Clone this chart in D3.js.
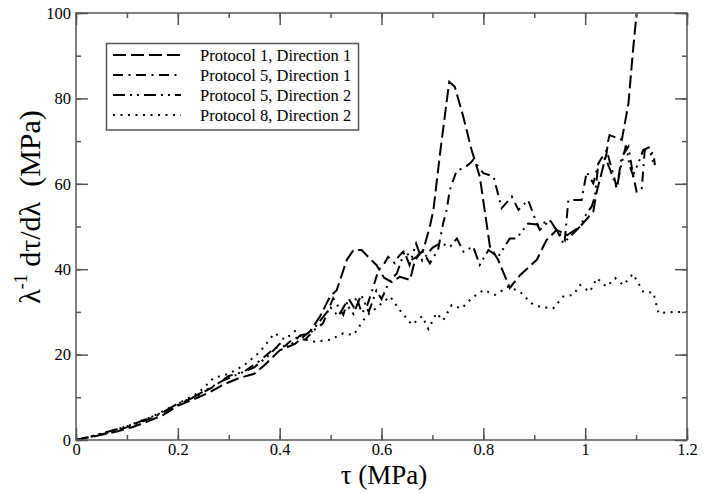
<!DOCTYPE html>
<html><head><meta charset="utf-8">
<script src="https://cdn.jsdelivr.net/npm/d3@7"></script>
<style>html,body{margin:0;padding:0;background:#fff;}</style>
</head><body>
<svg id="chart" width="704" height="494"></svg>
<script>
const xTicks = [0, 0.2, 0.4, 0.6, 0.8, 1, 1.2];
const yTicks = [0, 20, 40, 60, 80, 100];
const seriesNames = ["Protocol 1, Direction 1", "Protocol 5, Direction 1", "Protocol 5, Direction 2", "Protocol 8, Direction 2"];

const p1d1 = [[0,0],[0.02,0.5],[0.05,1.2],[0.08,2],[0.11,3],[0.14,4.3],[0.17,5.8],[0.2,8],[0.23,9.5],[0.26,11],[0.29,13],[0.32,14.5],[0.35,15.5],[0.37,17.5],[0.4,21],[0.43,22.5],[0.46,25.5],[0.479,28.9],[0.499,33.6],[0.512,35.1],[0.532,42.2],[0.545,44.5],[0.561,44.5],[0.577,42.5],[0.59,41],[0.605,38],[0.62,37],[0.636,38.2],[0.656,37.5],[0.666,42.2],[0.682,44.5],[0.695,50],[0.702,53.9],[0.715,67.1],[0.733,83.9],[0.744,82.7],[0.76,76],[0.777,67.9],[0.793,61.7],[0.813,45.3],[0.829,42.2],[0.852,35.6],[0.872,38.6],[0.905,42.2],[0.924,46.8],[0.944,49.2],[0.965,48],[0.99,50],[1.016,53.5],[1.022,57.8],[1.042,67.1],[1.045,69.9],[1.048,71.4],[1.072,70.3],[1.085,78.8],[1.094,91.3],[1.101,99.9],[1.11,112]];

const p5d1 = [[0,0],[0.03,0.8],[0.06,1.6],[0.09,2.6],[0.12,3.8],[0.15,5.2],[0.18,7],[0.21,8.8],[0.24,10.5],[0.27,12.5],[0.3,15],[0.33,16],[0.36,18.5],[0.39,21.5],[0.41,22],[0.43,24],[0.45,23.5],[0.47,26],[0.485,27.3],[0.505,33.2],[0.525,29.3],[0.535,33.2],[0.545,31.2],[0.551,33.6],[0.561,29.7],[0.571,31.2],[0.584,35.9],[0.594,39.8],[0.604,41],[0.613,42.9],[0.626,41.4],[0.633,42.9],[0.646,44.5],[0.659,42.2],[0.669,42.9],[0.679,44.5],[0.695,41.4],[0.711,44.5],[0.721,50.7],[0.728,53.9],[0.734,58.5],[0.748,63.2],[0.761,63.6],[0.774,64.8],[0.78,65.6],[0.8,62.5],[0.82,61.7],[0.836,54.3],[0.856,57],[0.869,53.9],[0.888,56.2],[0.905,50.7],[0.911,49.2],[0.931,51.5],[0.941,49.6],[0.96,46.8],[0.967,56.2],[0.993,56.2],[1.003,62.8],[1.016,60.1],[1.026,64.8],[1.042,67.9],[1.058,61],[1.062,58.9],[1.072,66.4],[1.085,68.7],[1.094,62.1],[1.101,58.2],[1.111,58.5],[1.117,67.9],[1.134,67.1],[1.137,64.4]];

const p5d2 = [[0,0],[0.025,0.7],[0.05,1.5],[0.08,2.5],[0.11,3.6],[0.14,5],[0.17,6.5],[0.2,8.5],[0.23,10],[0.26,12],[0.29,14],[0.32,15.5],[0.35,17],[0.38,20],[0.4,22.5],[0.42,22],[0.44,24.5],[0.46,25],[0.48,28],[0.5,31],[0.515,29],[0.53,32],[0.545,29.5],[0.56,34],[0.575,30],[0.59,35],[0.6,33],[0.615,37],[0.63,39],[0.645,44],[0.655,41],[0.668,46],[0.68,42],[0.7,45],[0.715,46.1],[0.735,45.3],[0.748,47.2],[0.761,44.1],[0.78,45.3],[0.793,41],[0.81,44.5],[0.829,42.9],[0.852,47.2],[0.865,47.2],[0.888,50.7],[0.911,50.4],[0.93,51.5],[0.944,49.2],[0.957,46.1],[0.977,48.4],[0.99,50],[1.003,53.1],[1.013,54.7],[1.019,57],[1.026,64.8],[1.04,66],[1.05,63],[1.062,59],[1.07,64],[1.08,69],[1.088,64],[1.094,62],[1.105,65],[1.114,67.9],[1.125,68.5],[1.134,65]];

const p8d2 = [[0,0],[0.03,0.8],[0.06,1.8],[0.1,3.2],[0.15,5.5],[0.2,8.5],[0.24,11],[0.27,14.5],[0.3,15.5],[0.33,17.5],[0.36,20.5],[0.39,25],[0.41,23.5],[0.43,25.5],[0.45,23.5],[0.47,23],[0.5,23.5],[0.525,25],[0.545,24.6],[0.57,29],[0.59,31],[0.617,33.6],[0.636,30.4],[0.66,27],[0.68,29],[0.692,26],[0.708,29.7],[0.721,28],[0.738,31.6],[0.757,30.8],[0.777,33.2],[0.8,35.1],[0.823,34],[0.849,35.9],[0.872,34.7],[0.895,32],[0.911,31.2],[0.937,30.8],[0.957,33.6],[0.977,34],[0.99,36.3],[1.009,34.7],[1.023,37.9],[1.042,35.9],[1.059,37.9],[1.075,36.3],[1.094,38.9],[1.114,34.7],[1.134,34.5],[1.144,29.7],[1.173,30],[1.2,30]];

const series = [p1d1, p5d1, p5d2, p8d2];
const dashes = ["13,5", "10,5.5,2,5.5", "12,5,2,5,2,5", "2,5.5"];

const L = 76, R = 687, T = 13, B = 440;
const x = d3.scaleLinear().domain([0, 1.2]).range([L, R]);
const y = d3.scaleLinear().domain([0, 100]).range([B, T]);
const svg = d3.select("#chart");
const serif = "'Liberation Serif','Times New Roman',serif";

svg.append("defs").append("clipPath").attr("id", "clip")
  .append("rect").attr("x", L).attr("y", T).attr("width", R - L).attr("height", B - T);

const line = d3.line().x(d => x(d[0])).y(d => y(d[1]));
const g = svg.append("g").attr("clip-path", "url(#clip)");
series.forEach((s, i) => {
  g.append("path").datum(s).attr("d", line)
    .attr("fill", "none").attr("stroke", "#000").attr("stroke-width", 2)
    .attr("stroke-dasharray", dashes[i]);
});

const xMinor = d3.range(0, 13).map(i => i / 10);
const yMinor = d3.range(0, 11).map(i => i * 10);
const axisColor = "#555";
function styleAxis(sel) {
  sel.select(".domain").remove();
  sel.selectAll("line").attr("stroke", axisColor).attr("stroke-width", 1.5);
}
svg.append("g").attr("transform", `translate(0,${B})`)
  .call(d3.axisBottom(x).tickValues(xMinor).tickSize(-5).tickFormat("")).call(styleAxis);
svg.append("g").attr("transform", `translate(0,${B})`)
  .call(d3.axisBottom(x).tickValues(xTicks).tickSize(-12).tickPadding(3).tickFormat(d3.format("~g")))
  .call(styleAxis)
  .call(a => a.selectAll("text").attr("font-family", serif).attr("font-size", 16.5).attr("fill", "#000"));
svg.append("g").attr("transform", `translate(0,${T})`)
  .call(d3.axisTop(x).tickValues(xMinor).tickSize(-5).tickFormat("")).call(styleAxis);
svg.append("g").attr("transform", `translate(0,${T})`)
  .call(d3.axisTop(x).tickValues(xTicks).tickSize(-12).tickFormat("")).call(styleAxis);
svg.append("g").attr("transform", `translate(${L},0)`)
  .call(d3.axisLeft(y).tickValues(yMinor).tickSize(-5).tickFormat("")).call(styleAxis);
svg.append("g").attr("transform", `translate(${L},0)`)
  .call(d3.axisLeft(y).tickValues(yTicks).tickSize(-12).tickPadding(5).tickFormat(d3.format("d")))
  .call(styleAxis)
  .call(a => a.selectAll("text").attr("font-family", serif).attr("font-size", 16.5).attr("fill", "#000"));
svg.append("g").attr("transform", `translate(${R},0)`)
  .call(d3.axisRight(y).tickValues(yMinor).tickSize(-5).tickFormat("")).call(styleAxis);
svg.append("g").attr("transform", `translate(${R},0)`)
  .call(d3.axisRight(y).tickValues(yTicks).tickSize(-12).tickFormat("")).call(styleAxis);

svg.append("rect").attr("x", L).attr("y", T).attr("width", R - L).attr("height", B - T)
  .attr("fill", "none").attr("stroke", axisColor).attr("stroke-width", 1.5);

// axis titles
svg.append("text").attr("x", 384).attr("y", 484).attr("text-anchor", "middle")
  .attr("font-family", serif).attr("font-size", 27).text("τ (MPa)");
const yl = svg.append("text").attr("transform", "translate(40,207) rotate(-90)")
  .attr("text-anchor", "middle").attr("font-family", serif).attr("font-size", 30);
yl.append("tspan").text("λ");
yl.append("tspan").attr("font-size", 18).attr("dy", -13).text("-1");
yl.append("tspan").attr("dy", 13).text("\u00a0dτ/dλ\u00a0\u00a0(MPa)");

// legend
const lg = svg.append("g");
lg.append("rect").attr("x", 106.5).attr("y", 43.5).attr("width", 252).attr("height", 86.5)
  .attr("fill", "#fff").attr("stroke", axisColor).attr("stroke-width", 1.5);
seriesNames.forEach((n, i) => {
  const cy = 55 + i * 20;
  lg.append("line").attr("x1", 113).attr("x2", 181).attr("y1", cy).attr("y2", cy)
    .attr("stroke", "#000").attr("stroke-width", 2).attr("stroke-dasharray", dashes[i]);
  lg.append("text").attr("x", 200).attr("y", cy + 5.5).attr("font-family", serif)
    .attr("font-size", 16.5).text(n);
});
</script>
</body></html>
